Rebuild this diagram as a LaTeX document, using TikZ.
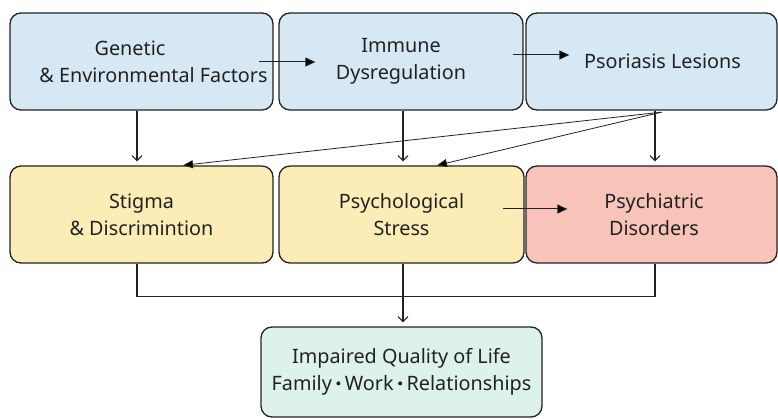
\documentclass[tikz,border=0pt]{standalone}
\usepackage{fontspec}
\setmainfont{Noto Sans}
\usetikzlibrary{arrows.meta,calc}
\definecolor{boxblue}{HTML}{D6E8F3}
\definecolor{boxyellow}{HTML}{FBEDB5}
\definecolor{boxpink}{HTML}{F8C3B8}
\definecolor{boxmint}{HTML}{DDF2EA}
\definecolor{edge}{HTML}{222222}
\newcommand{\midbul}{\kern4.5pt\raisebox{0.27em}{\tikz\fill[edge] (0,0) circle (2pt);}\kern4.5pt}
\tikzset{
  card/.style={draw=edge, line width=1.3pt, rounded corners=11pt, align=center,
    font=\fontsize{19.8}{27}\selectfont, text=edge, inner sep=0pt, minimum height=97pt},
  vdown/.style={draw=edge, line width=1.1pt, -{Straight Barb[length=5pt,width=10pt]}},
  harrow/.style={draw=edge, line width=1pt, -{Triangle[length=10pt,width=9pt]}},
  diag/.style={draw=edge, line width=0.8pt, -{Triangle[length=10pt,width=8pt]}},
  plain/.style={draw=edge, line width=1.1pt}
}
\begin{document}
\begin{tikzpicture}[x=1pt,y=-1pt]
\useasboundingbox[fill=white] (0,0) rectangle (778,419);
% top row
\node[card, fill=boxblue, minimum width=263pt] (gen) at (141.5,61.5) {Genetic\hspace*{23pt}\\ \hspace*{24pt}\& Environmental Factors};
\node[card, fill=boxblue, minimum width=244pt] (imm) at (401,61.5) {Immune\\Dysregulation};
\node[card, fill=boxblue, minimum width=251pt] (pso) at (651.5,61.5) {\hspace*{22pt}\raisebox{-4pt}{Psoriasis Lesions}};
% middle row
\node[card, fill=boxyellow, minimum width=263pt] (sti) at (141.5,214.5) {Stigma\\ \& Discrimintion};
\node[card, fill=boxyellow, minimum width=245pt] (str) at (401.5,214.5) {Psychological\\Stress};
\node[card, fill=boxpink, minimum width=251pt] (psy) at (651.5,214.5) {\hspace*{5pt}Psychiatric\\\hspace*{5pt}Disorders};
% bottom
\node[card, fill=boxmint, minimum width=281pt, minimum height=90pt] (qol) at (401.5,372) {Impaired Quality of Life\\Family\midbul Work\midbul Relationships};
% horizontal arrows
\coordinate (a1s) at ($(gen.east)+(-15,0.5)$);
\coordinate (a1e) at ($(imm.west)+(37,0.5)$);
\draw[harrow] (a1s) -- (a1e);
\coordinate (a2s) at ($(imm.east)+(-11,-6.5)$);
\coordinate (a2e) at ($(pso.west)+(44,-6.5)$);
\draw[harrow] (a2s) -- (a2e);
\coordinate (a3s) at ($(str.east)+(-22,-5.5)$);
\coordinate (a3e) at ($(psy.west)+(42,-5.5)$);
\draw[harrow] (a3s) -- (a3e);
% vertical arrows
\draw[vdown] ($(gen.south)+(-4.5,0)$) -- ($(sti.north)+(-4.5,-4)$);
\draw[vdown] ($(imm.south)+(2,0)$) -- ($(str.north)+(1.5,-4)$);
\draw[vdown] ($(pso.south)+(3.5,0)$) -- ($(psy.north)+(3.5,-4)$);
% diagonals
\coordinate (dst) at ($(pso.south)+(10,1.5)$);
\draw[diag] (dst) -- ($(sti.north)+(41.5,0)$);
\draw[diag] (dst) -- ($(str.north)+(35.5,0)$);
% bottom merge
\coordinate (m1) at ($(sti.south)+(-4.5,33)$);
\coordinate (m3) at ($(psy.south)+(3.5,33)$);
\draw[plain] ($(sti.south)+(-4.5,0)$) -- (m1) -- (m3) -- ($(psy.south)+(3.5,0)$);
\draw[vdown] ($(str.south)+(1.5,0)$) -- ($(qol.north)+(1.5,-4)$);
\end{tikzpicture}
\end{document}
